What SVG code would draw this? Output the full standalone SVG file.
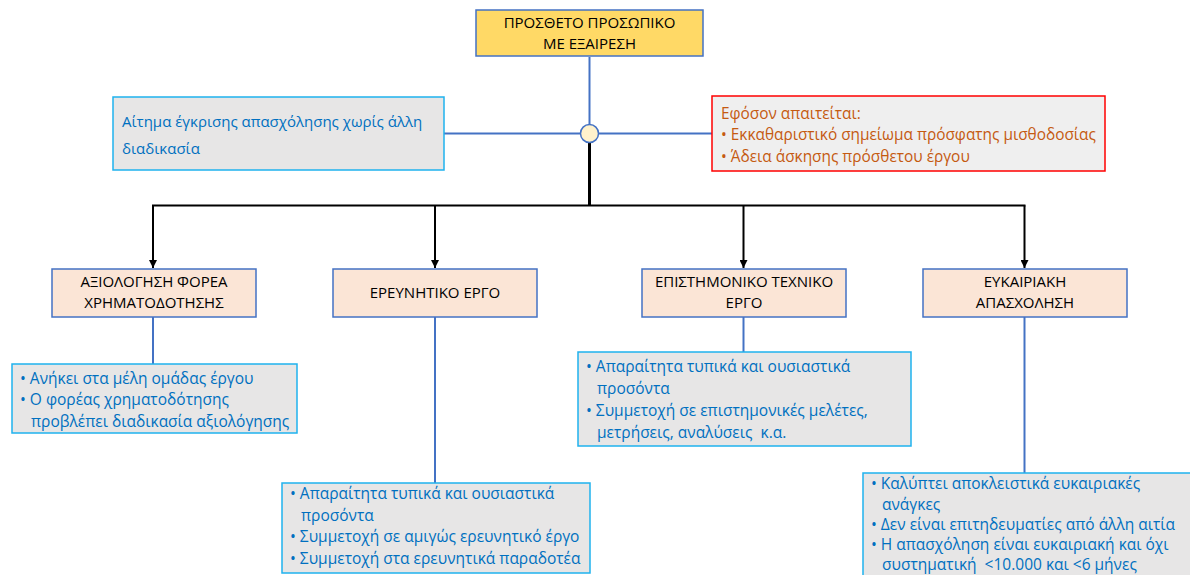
<svg xmlns="http://www.w3.org/2000/svg" width="1190" height="575" viewBox="0 0 1190 575">
  <defs>
    <marker id="arrow" viewBox="0 0 8 8" refX="8" refY="4" markerWidth="8" markerHeight="8" markerUnits="userSpaceOnUse" orient="auto">
      <path d="M0,0 L8,4 L0,8 Z" fill="#000"/>
    </marker>
  </defs>
  <style>
    text { font-family: "Open Sans", "Noto Sans", "Liberation Sans", sans-serif; }
    .title { fill: #FFD966; stroke: #4472C4; stroke-width: 1.5; }
    .cat { fill: #FBE5D6; stroke: #4472C4; stroke-width: 1.5; }
    .info { fill: #E7E6E6; stroke: #1FB2EE; stroke-width: 1.5; }
    .req { fill: #EFEFEF; stroke: #FF0000; stroke-width: 1.5; }
    .hdr { font-size: 15px; fill: #000; text-anchor: middle; }
    .blue { font-size: 15.5px; fill: #0070C0; }
    .lead { font-size: 15px; fill: #0070C0; }
    .orange { font-size: 15.4px; fill: #C55A11; }
    .bl { stroke: #4472C4; stroke-width: 2; fill: none; }
    .bk { stroke: #000; stroke-width: 2; fill: none; }
  </style>
  <rect width="1190" height="575" fill="#fff"/>

  <!-- connectors -->
  <g id="connectors">
    <line class="bl" x1="589.5" y1="57" x2="589.5" y2="125"/>
    <line class="bl" x1="444" y1="133.5" x2="580.5" y2="133.5"/>
    <line class="bl" x1="598.5" y1="133.5" x2="712" y2="133.5"/>
    <line class="bk" x1="589.5" y1="142.5" x2="589.5" y2="205.5" style="stroke-width:3"/>
    <line class="bk" x1="152" y1="205.5" x2="1025.5" y2="205.5"/>
    <line class="bk" x1="153" y1="205.5" x2="153" y2="268" marker-end="url(#arrow)"/>
    <line class="bk" x1="435" y1="205.5" x2="435" y2="268" marker-end="url(#arrow)"/>
    <line class="bk" x1="743.5" y1="205.5" x2="743.5" y2="268" marker-end="url(#arrow)"/>
    <line class="bk" x1="1024.5" y1="205.5" x2="1024.5" y2="268" marker-end="url(#arrow)"/>
    <line class="bl" x1="153" y1="317" x2="153" y2="364"/>
    <line class="bl" x1="435" y1="317" x2="435" y2="483"/>
    <line class="bl" x1="743.5" y1="317" x2="743.5" y2="352"/>
    <line class="bl" x1="1024.5" y1="317" x2="1024.5" y2="473"/>
    <circle cx="589.5" cy="133.5" r="9" fill="#FFF2CC" stroke="#4472C4" stroke-width="1.5"/>
  </g>

  <g id="root">
    <rect class="title" x="476" y="10" width="227" height="46"/>
    <text class="hdr" x="589.5" y="28">ΠΡΟΣΘΕΤΟ ΠΡΟΣΩΠΙΚΟ</text>
    <text class="hdr" x="589.5" y="49">ΜΕ ΕΞΑΙΡΕΣΗ</text>
  </g>

  <g id="application">
    <rect class="info" x="113" y="97" width="331" height="73"/>
    <text class="lead" x="122" y="127">Αίτημα έγκρισης απασχόλησης χωρίς άλλη</text>
    <text class="lead" x="122" y="154">διαδικασία</text>
  </g>

  <g id="requirements">
    <rect class="req" x="712" y="96" width="393" height="75"/>
    <text class="orange" x="721" y="119">Εφόσον απαιτείται:</text>
    <text class="orange" x="721" y="140">• Εκκαθαριστικό σημείωμα πρόσφατης μισθοδοσίας</text>
    <text class="orange" x="721" y="162">• Άδεια άσκησης πρόσθετου έργου</text>
  </g>

  <g id="funder-evaluation">
    <rect class="cat" x="52" y="269" width="204" height="48"/>
    <text class="hdr" x="154" y="287">ΑΞΙΟΛΟΓΗΣΗ ΦΟΡΕΑ</text>
    <text class="hdr" x="154" y="308">ΧΡΗΜΑΤΟΔΟΤΗΣΗΣ</text>
  </g>

  <g id="research-work">
    <rect class="cat" x="333" y="269" width="204" height="48"/>
    <text class="hdr" x="435" y="298">ΕΡΕΥΝΗΤΙΚΟ ΕΡΓΟ</text>
  </g>

  <g id="scientific-work">
    <rect class="cat" x="642" y="269" width="204" height="48"/>
    <text class="hdr" x="744" y="287">ΕΠΙΣΤΗΜΟΝΙΚΟ ΤΕΧΝΙΚΟ</text>
    <text class="hdr" x="744" y="308">ΕΡΓΟ</text>
  </g>

  <g id="occasional-employment">
    <rect class="cat" x="923" y="269" width="204" height="48"/>
    <text class="hdr" x="1025" y="287">ΕΥΚΑΙΡΙΑΚΗ</text>
    <text class="hdr" x="1025" y="308">ΑΠΑΣΧΟΛΗΣΗ</text>
  </g>

  <g id="funder-details">
    <rect class="info" x="12" y="364" width="285" height="69"/>
    <text class="blue" x="20" y="384">• Ανήκει στα μέλη ομάδας έργου</text>
    <text class="blue" x="20" y="405">• Ο φορέας χρηματοδότησης</text>
    <text class="blue" x="31" y="427">προβλέπει διαδικασία αξιολόγησης</text>
  </g>

  <g id="research-details">
    <rect class="info" x="282" y="483" width="308" height="90"/>
    <text class="blue" x="290" y="499">• Απαραίτητα τυπικά και ουσιαστικά</text>
    <text class="blue" x="301" y="521">προσόντα</text>
    <text class="blue" x="290" y="542">• Συμμετοχή σε αμιγώς ερευνητικό έργο</text>
    <text class="blue" x="290" y="564">• Συμμετοχή στα ερευνητικά παραδοτέα</text>
  </g>

  <g id="scientific-details">
    <rect class="info" x="578" y="352" width="333" height="94"/>
    <text class="blue" x="586" y="372">• Απαραίτητα τυπικά και ουσιαστικά</text>
    <text class="blue" x="597" y="394">προσόντα</text>
    <text class="blue" x="586" y="416">• Συμμετοχή σε επιστημονικές μελέτες,</text>
    <text class="blue" x="597" y="438" xml:space="preserve">μετρήσεις, αναλύσεις  κ.α.</text>
  </g>

  <g id="occasional-details">
    <rect class="info" x="863" y="473" width="340" height="120"/>
    <text class="blue" x="871" y="489">• Καλύπτει αποκλειστικά ευκαιριακές</text>
    <text class="blue" x="882" y="510">ανάγκες</text>
    <text class="blue" x="871" y="530">• Δεν είναι επιτηδευματίες από άλλη αιτία</text>
    <text class="blue" x="871" y="550">• Η απασχόληση είναι ευκαιριακή και όχι</text>
    <text class="blue" x="882" y="570" xml:space="preserve">συστηματική  &lt;10.000 και &lt;6 μήνες</text>
  </g>
</svg>
